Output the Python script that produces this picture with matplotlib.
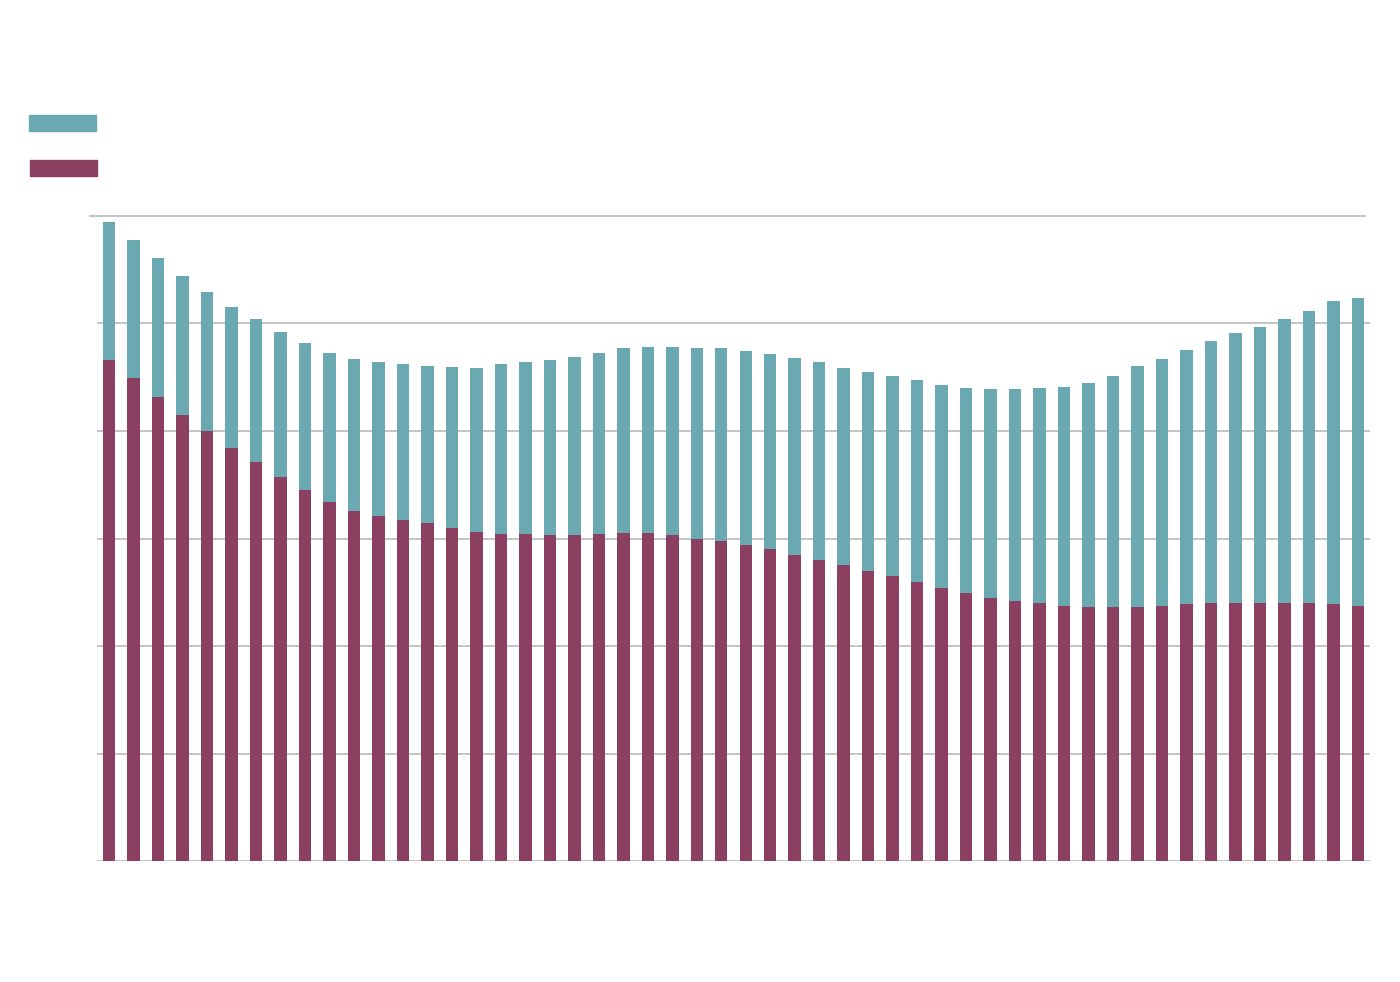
import matplotlib.pyplot as plt
import numpy as np
from matplotlib.patches import Rectangle


# bottom (maroon) and top (teal) segments of each stacked bar
lower = [46.6, 44.9, 43.2, 41.5, 40.0, 38.4, 37.1, 35.7, 34.5, 33.4,
         32.6, 32.1, 31.7, 31.4, 31.0, 30.6, 30.4, 30.4, 30.3, 30.3,
         30.4, 30.5, 30.5, 30.3, 30.0, 29.8, 29.4, 29.0, 28.5, 28.0,
         27.5, 27.0, 26.5, 26.0, 25.4, 24.9, 24.5, 24.2, 24.0, 23.7,
         23.6, 23.6, 23.6, 23.7, 23.9, 24.0, 24.0, 24.0, 24.0, 24.0,
         23.9, 23.7]
upper = [12.8, 12.9, 12.9, 12.9, 12.9, 13.1, 13.3, 13.5, 13.7, 13.9,
         14.1, 14.3, 14.5, 14.6, 15.0, 15.3, 15.8, 16.0, 16.3, 16.6,
         16.9, 17.2, 17.3, 17.5, 17.7, 17.9, 18.0, 18.2, 18.3, 18.4,
         18.4, 18.5, 18.6, 18.7, 18.9, 19.1, 19.4, 19.7, 20.0, 20.4,
         20.9, 21.5, 22.4, 23.0, 23.6, 24.4, 25.1, 25.7, 26.4, 27.2,
         28.2, 28.7]
grid_levels = [0, 10, 20, 30, 40, 50]

TEAL = '#6aa8b2'
MAROON = '#8b4062'
GRID = '#c4c4c4'

fig = plt.figure(figsize=(14, 9.82), dpi=100)
ax = fig.add_axes([97 / 1400, 1 - 861 / 982, 1273 / 1400, 645 / 982])

x = np.arange(len(lower))
ax.bar(x, lower, width=0.51, color=MAROON, zorder=2)
ax.bar(x, upper, width=0.51, bottom=lower, color=TEAL, zorder=2)

for level in grid_levels:
    ax.axhline(level, color=GRID, linewidth=1.4, zorder=1)
# top line sits slightly left of the others
ax.axhline(60, xmin=-0.0055, xmax=0.996, color=GRID, linewidth=1.4,
           zorder=1, clip_on=False)

ax.set_xlim(-0.49, len(lower) - 0.51)
ax.set_ylim(0, 60)
ax.axis('off')

# legend swatches, no labels
fig.patches.append(Rectangle((29 / 1400, 1 - 131 / 982), 67 / 1400, 16 / 982,
                             color=TEAL, transform=fig.transFigure))
fig.patches.append(Rectangle((30 / 1400, 1 - 176 / 982), 67 / 1400, 16 / 982,
                             color=MAROON, transform=fig.transFigure))

plt.savefig('out.png', dpi=100)
